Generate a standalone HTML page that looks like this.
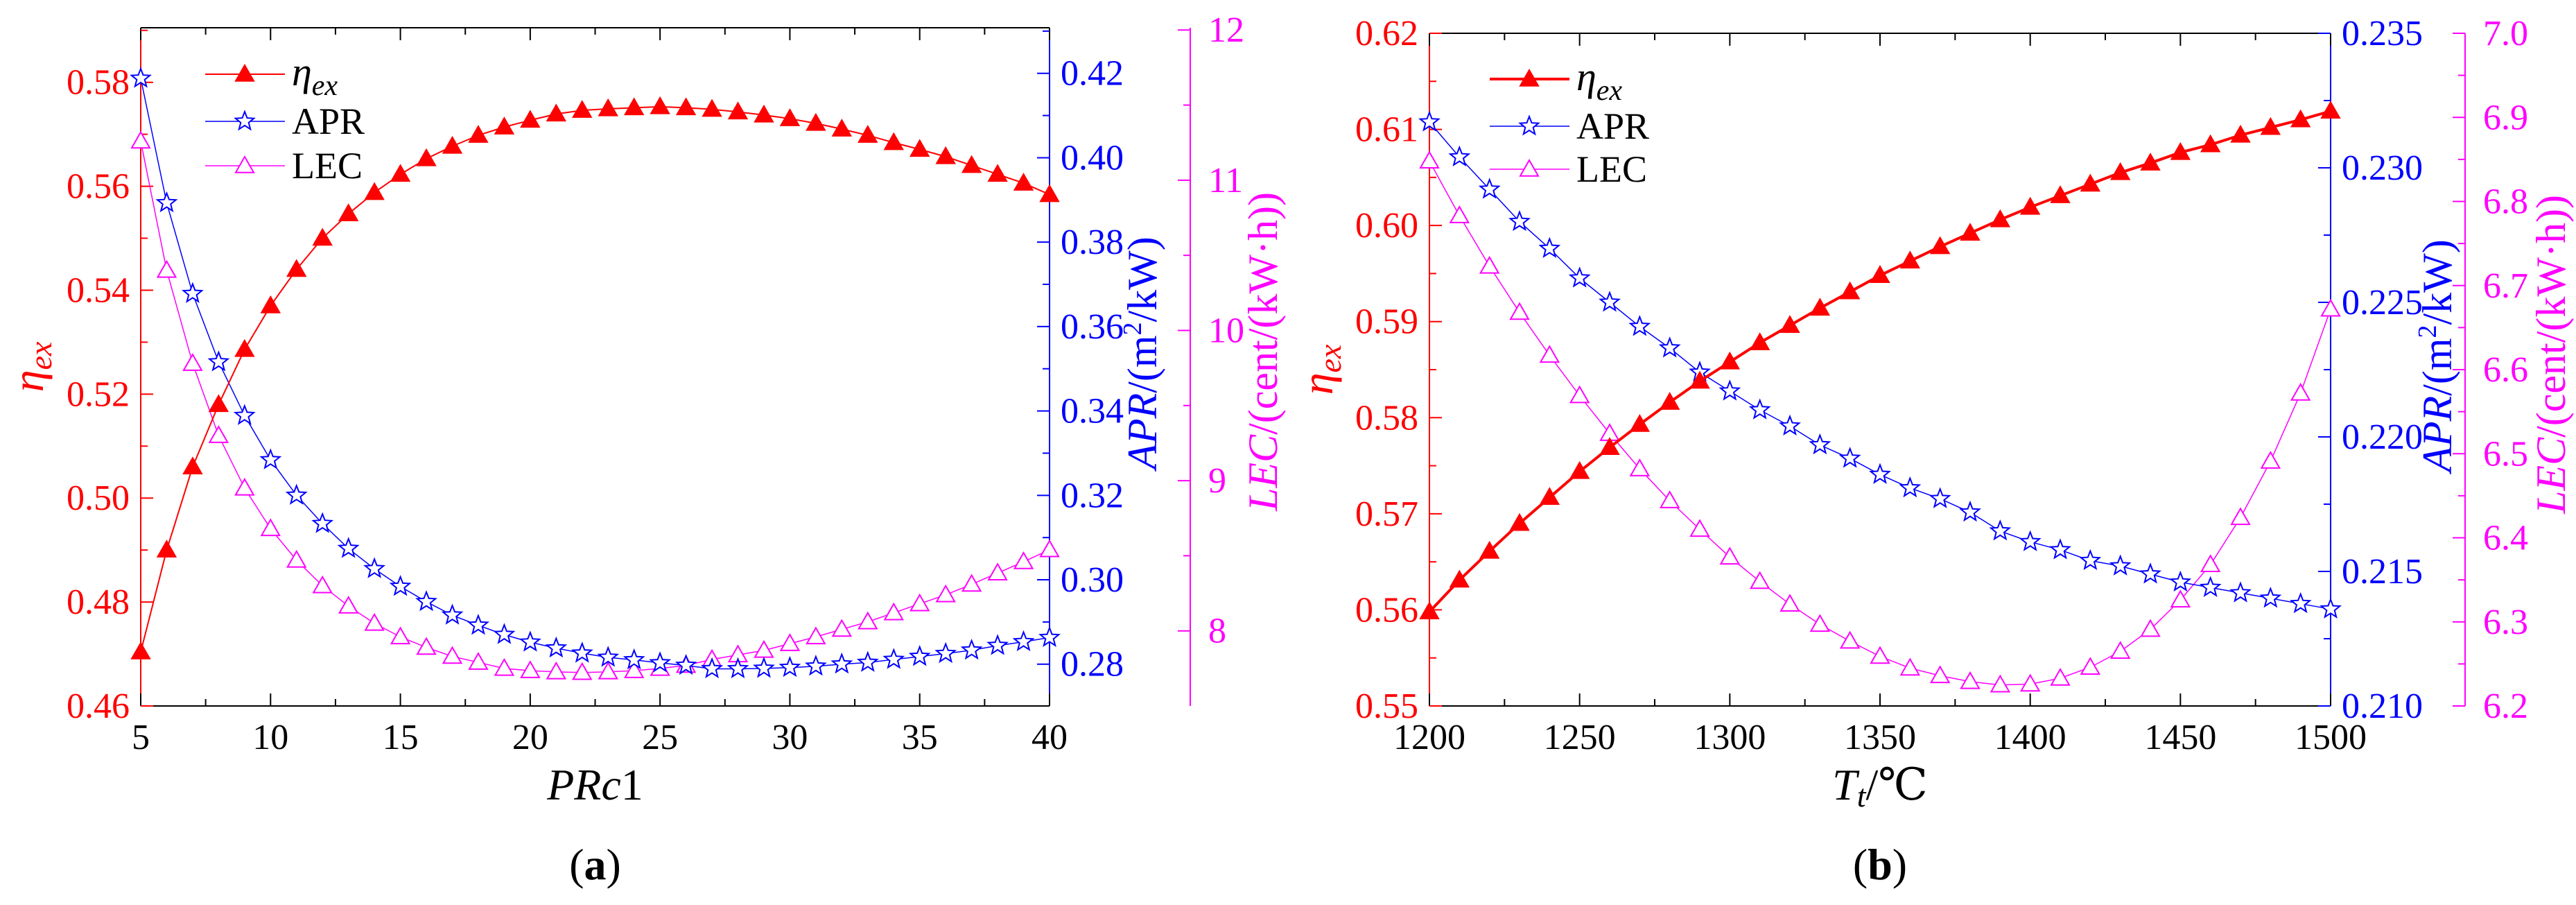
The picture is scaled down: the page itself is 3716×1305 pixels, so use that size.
<!DOCTYPE html>
<html><head><meta charset="utf-8"><style>
html,body{margin:0;padding:0;background:#fff;}
svg, svg text{font-family:"Liberation Serif","DejaVu Serif",serif;}
</style></head><body>
<svg id="chart" width="3716" height="1300" viewBox="0 0 3716 1300" xmlns="http://www.w3.org/2000/svg" font-family="'Liberation Serif', 'DejaVu Serif', serif"></svg>
<script>
// Panel (a) data
const aX = [5,6,7,8,9,10,11,12,13,14,15,16,17,18,19,20,21,22,23,24,25,26,27,28,29,30,31,32,33,34,35,36,37,38,39,40];
const aEta = [0.4704,0.490,0.506,0.518,0.5286,0.537,0.544,0.550,0.5547,0.5588,0.5623,0.5653,0.5677,0.5698,0.5714,0.5727,0.5739,0.5746,0.5749,0.5751,0.5753,0.5751,0.5748,0.5743,0.5737,0.573,0.5721,0.571,0.5698,0.5684,0.5671,0.5657,0.564,0.5623,0.5606,0.5584];
const aApr = [0.4188,0.3893,0.3678,0.3516,0.3389,0.3284,0.320,0.3133,0.3074,0.3026,0.2984,0.2948,0.2916,0.2892,0.287,0.2852,0.2838,0.2826,0.2816,0.281,0.2803,0.2797,0.2789,0.2789,0.279,0.2792,0.2795,0.28,0.2804,0.2811,0.2818,0.2825,0.2833,0.2844,0.2853,0.2863];
const aLec = [11.26,10.40,9.78,9.30,8.95,8.68,8.47,8.30,8.165,8.05,7.96,7.89,7.83,7.79,7.75,7.735,7.727,7.723,7.727,7.735,7.75,7.77,7.81,7.84,7.87,7.915,7.96,8.01,8.06,8.12,8.18,8.24,8.31,8.385,8.46,8.54];
const aXTicks = [5,10,15,20,25,30,35,40];
const aEtaTicks = [0.46,0.48,0.50,0.52,0.54,0.56,0.58];
const aAprTicks = [0.28,0.30,0.32,0.34,0.36,0.38,0.40,0.42];
const aLecTicks = [8,9,10,11,12];
// Panel (b) data
const bX = [1200,1210,1220,1230,1240,1250,1260,1270,1280,1290,1300,1310,1320,1330,1340,1350,1360,1370,1380,1390,1400,1410,1420,1430,1440,1450,1460,1470,1480,1490,1500];
const bEta = [0.5598,0.5631,0.5661,0.569,0.5717,0.5744,0.5769,0.5793,0.5816,0.5838,0.5858,0.5878,0.5896,0.5914,0.5931,0.5948,0.5963,0.5978,0.5992,0.6006,0.6019,0.6031,0.6043,0.6055,0.6065,0.6076,0.6084,0.6094,0.6102,0.611,0.6119];
const bApr = [0.2317,0.2304,0.2292,0.2280,0.2270,0.2259,0.2250,0.2241,0.2233,0.2224,0.2217,0.2210,0.2204,0.2197,0.2192,0.2186,0.2181,0.2177,0.2172,0.2165,0.2161,0.2158,0.2154,0.2152,0.2149,0.2146,0.2144,0.2142,0.2140,0.2138,0.2136];
const bLec = [6.848,6.783,6.723,6.668,6.617,6.569,6.524,6.482,6.444,6.41,6.377,6.348,6.321,6.297,6.277,6.259,6.245,6.236,6.229,6.225,6.226,6.233,6.246,6.265,6.291,6.326,6.368,6.424,6.491,6.572,6.672];
const bXTicks = [1200,1250,1300,1350,1400,1450,1500];
const bEtaTicks = [0.55,0.56,0.57,0.58,0.59,0.60,0.61,0.62];
const bAprTicks = [0.210,0.215,0.220,0.225,0.230,0.235];
const bLecTicks = [6.2,6.3,6.4,6.5,6.6,6.7,6.8,6.9,7.0];

const NS = "http://www.w3.org/2000/svg";
const svg = document.getElementById('chart');
function mk(tag, attrs, parent){const e=document.createElementNS(NS,tag);for(const k in attrs)e.setAttribute(k,attrs[k]);(parent||svg).appendChild(e);return e;}

function panel(p){
  const g = mk('g',{});
  
  
  const sx = v => p.L + (v - p.xr[0])/(p.xr[1]-p.xr[0])*(p.R-p.L);
  const sy = (v,r) => p.B - (v - r[0])/(r[1]-r[0])*(p.B-p.T);
  const RED='#ff0000', BLUE='#0000ff', MAG='#ff00ff';
  mk('line',{x1:p.L,y1:p.T,x2:p.R,y2:p.T,stroke:'#000','stroke-width':2},g);
  mk('line',{x1:p.L,y1:p.B,x2:p.R,y2:p.B,stroke:'#000','stroke-width':2},g);
  mk('line',{x1:p.L,y1:p.T,x2:p.L,y2:p.B,stroke:RED,'stroke-width':2},g);
  mk('line',{x1:p.R,y1:p.T,x2:p.R,y2:p.B,stroke:BLUE,'stroke-width':2},g);
  mk('line',{x1:p.LX,y1:p.T,x2:p.LX,y2:p.B,stroke:MAG,'stroke-width':2},g);
  const xs = p.xTicks; const xstep = xs[1]-xs[0];
  for(let i=0;i<xs.length;i++){
    const x=sx(xs[i]);
    mk('line',{x1:x,y1:p.B,x2:x,y2:p.B-18,stroke:'#000','stroke-width':2},g);
    mk('line',{x1:x,y1:p.T,x2:x,y2:p.T+18,stroke:'#000','stroke-width':2},g);
    if(i<xs.length-1){const xm=sx(xs[i]+xstep/2);
      mk('line',{x1:xm,y1:p.B,x2:xm,y2:p.B-10,stroke:'#000','stroke-width':2},g);
      mk('line',{x1:xm,y1:p.T,x2:xm,y2:p.T+10,stroke:'#000','stroke-width':2},g);}
    const t=mk('text',{x:x,y:p.B+62,'font-size':52,'text-anchor':'middle',fill:'#000'},g);t.textContent=xs[i];
  }
  function yaxis(ticks,r,x,dir,color,lx,anchor,dec){
    const st=ticks[1]-ticks[0];
    ticks.forEach((v,i)=>{
      const y=sy(v,r);
      mk('line',{x1:x,y1:y,x2:x+dir*18,y2:y,stroke:color,'stroke-width':2},g);
      const ym=sy(v+st/2,r);
      if(ym>=p.T-1) mk('line',{x1:x,y1:ym,x2:x+dir*10,y2:ym,stroke:color,'stroke-width':2},g);
      const t=mk('text',{x:lx,y:y+17,'font-size':52,'text-anchor':anchor,fill:color},g);t.textContent=v.toFixed(dec);
    });
  }
  yaxis(p.etaTicks,p.etaR,p.L,1,RED,p.L-16,'end',2);
  yaxis(p.aprTicks,p.aprR,p.R,-1,BLUE,p.R+16,'start',p.aprDec);
  yaxis(p.lecTicks,p.lecR,p.LX,-1,MAG,p.LX+26,'start',p.lecDec);
  function series(ys,r,color,w,kind,nm){
    const pts=p.xs.map((x,i)=>[sx(x),sy(ys[i],r)]);
    const pl=mk('polyline',{points:pts.map(q=>q.join(',')).join(' '),fill:'none',stroke:color,'stroke-width':w},g);
    
    
    pts.forEach(q=>{const m=marker(q[0],q[1],kind,color,g);
      
      });
  }
  series(p.lec,p.lecR,MAG,1.5,'otri','lec');
  series(p.apr,p.aprR,BLUE,1.5,'star','apr');
  series(p.eta,p.etaR,RED,p.etaW,'tri','eta');
  const lg=mk('g',{},g);
  
  
  const rows=[['tri',RED,'eta',p.etaW],['star',BLUE,'APR',1.5],['otri',MAG,'LEC',1.5]];
  rows.forEach((r,i)=>{
    const y=p.legY[i];
    mk('line',{x1:p.legX,y1:y,x2:p.legX+115,y2:y,stroke:r[1],'stroke-width':r[3]},lg);
    marker(p.legX+57,y,r[0],r[1],lg);
    if(r[2]==='eta'){const t=mk('text',{x:p.legX+125,y:y+16,'font-size':58,'font-style':'italic',fill:'#000'},lg);
      t.innerHTML='η<tspan font-size="42" dy="14">ex</tspan>';}
    else{const t=mk('text',{x:p.legX+125,y:y+18,'font-size':54,fill:'#000'},lg);t.textContent=r[2];}
  });
  const et=mk('text',{transform:`translate(${p.etaTX},${(p.T+p.B)/2}) rotate(-90)`,'font-size':64,'text-anchor':'middle',fill:RED,'font-style':'italic'},g);
  et.innerHTML='η<tspan font-size="46" dy="12">ex</tspan>';
  const at=mk('text',{transform:`translate(${p.aprTX},${(p.T+p.B)/2-20}) rotate(-90)`,'font-size':60,'text-anchor':'middle',fill:BLUE},g);
  at.innerHTML='<tspan font-style="italic">APR</tspan>/(m<tspan font-size="38" dy="-22">2</tspan><tspan dy="22">/kW)</tspan>';
  const lt=mk('text',{transform:`translate(${p.lecTX},${(p.T+p.B)/2-22}) rotate(-90)`,'font-size':60,'text-anchor':'middle',fill:MAG},g);
  lt.innerHTML='<tspan font-style="italic">LEC</tspan>/(cent/(kW·h))';
  const xt=mk('text',{x:(p.L+p.R)/2,y:p.B+135,'font-size':64,'text-anchor':'middle',fill:'#000'},g);
  xt.innerHTML=p.xTitle;
  const cap=mk('text',{x:(p.L+p.R)/2,y:1268,'font-size':64,'text-anchor':'middle',fill:'#000'},g);
  cap.innerHTML=p.cap;
}
function marker(x,y,kind,color,parent){
  if(kind==='tri'||kind==='otri'){
    const s=13;
    return mk('polygon',{points:`${x},${y-s} ${x-s},${y+s*0.75} ${x+s},${y+s*0.75}`,fill:kind==='tri'?color:'#fff',stroke:color,'stroke-width':2},parent);
  }
  let pts=[];for(let i=0;i<10;i++){const r=i%2?6:14;const a=-Math.PI/2+i*Math.PI/5;pts.push((x+r*Math.cos(a)).toFixed(1)+','+(y+r*Math.sin(a)).toFixed(1));}
  return mk('polygon',{points:pts.join(' '),fill:'#fff',stroke:color,'stroke-width':2},parent);
}
panel({name:'panel-a',L:203,R:1514,LX:1717,T:40,B:1018,xr:[5,40],xs:aX,eta:aEta,apr:aApr,lec:aLec,
  etaR:[0.46,0.5905],aprR:[0.2701,0.4308],lecR:[7.5,12.015],xTicks:aXTicks,etaTicks:aEtaTicks,aprTicks:aAprTicks,lecTicks:aLecTicks,
  aprDec:2,lecDec:0,etaW:2,legX:296,legY:[107,175,239],etaTX:62,aprTX:1668,lecTX:1842,
  xTitle:'<tspan font-style="italic">PRc</tspan>1',cap:'(<tspan font-weight="bold">a</tspan>)'});
panel({name:'panel-b',L:2062,R:3362,LX:3556,T:48,B:1018,xr:[1200,1500],xs:bX,eta:bEta,apr:bApr,lec:bLec,
  etaR:[0.55,0.62],aprR:[0.210,0.235],lecR:[6.2,7.0],xTicks:bXTicks,etaTicks:bEtaTicks,aprTicks:bAprTicks,lecTicks:bLecTicks,
  aprDec:3,lecDec:1,etaW:4,legX:2149,legY:[114,182,244],etaTX:1922,aprTX:3536,lecTX:3700,
  xTitle:'<tspan font-style="italic">T<tspan font-size="46" dy="10">t</tspan></tspan><tspan dy="-10">/℃</tspan>',cap:'(<tspan font-weight="bold">b</tspan>)'});
</script>
</body></html>
